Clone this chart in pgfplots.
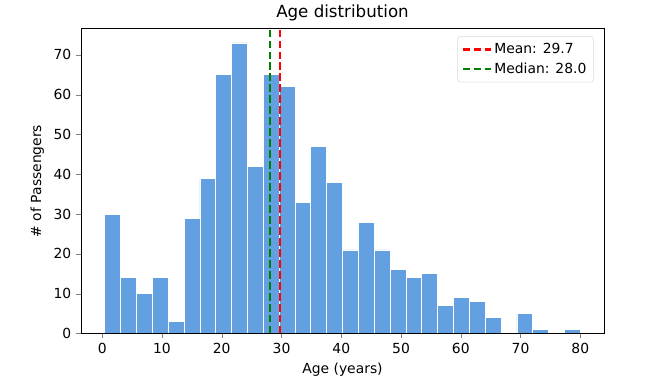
\documentclass[border=0pt]{standalone}
\usepackage{fontspec}
\setmainfont{DejaVu Sans}
\usepackage{pgfplots}
\pgfplotsset{compat=1.18}
\definecolor{barblue}{RGB}{98,160,226}
\definecolor{mplgreen}{RGB}{0,128,0}
\begin{document}
\begin{tikzpicture}
\begin{axis}[
  scale only axis,
  width=376.6pt, height=219.6pt,
  xmin=-3.56, xmax=83.98, ymin=0, ymax=76.65,
  xtick={0,10,...,80}, ytick={0,10,...,70},
  tick align=outside, major tick length=3.5pt,
  xtick pos=bottom, ytick pos=left,
  axis on top,
  tick label style={font=\fontsize{10}{12}\selectfont},
  /pgf/number format/assume math mode=true,
  label style={font=\fontsize{10}{12}\selectfont},
  xlabel={Age (years)}, ylabel={\# of Passengers},
  title={Age distribution},
  title style={font=\fontsize{12}{14}\selectfont, yshift=-4pt},
  legend style={at={(0.98,0.975)}, anchor=north east, draw=black!15, rounded corners=2pt,
    font=\fontsize{10}{12}\selectfont, row sep=1pt, inner sep=3pt},
  legend cell align=left,
  legend image code/.code={\draw[#1] (0pt,0pt) -- (20pt,0pt);},
]
\addplot[ybar interval, fill=barblue, draw=white, line width=0.5pt, forget plot] coordinates {
(0.42,30) (3.0727,14) (5.7253,10) (8.378,14) (11.0307,3) (13.6833,29)
(16.336,39) (18.9887,65) (21.6413,73) (24.294,42) (26.9467,65) (29.5993,62)
(32.252,33) (34.9047,47) (37.5573,38) (40.21,21) (42.8627,28) (45.5153,21)
(48.168,16) (50.8207,14) (53.4733,15) (56.126,7) (58.7787,9) (61.4313,8)
(64.084,4) (66.7367,0) (69.3893,5) (72.042,1) (74.6947,0) (77.3473,1) (80.0,1)
};
\addplot[red, line width=1.5pt, dash pattern=on 5.5pt off 2.4pt] coordinates {(29.699,0) (29.699,76.65)};
\addlegendentry{Mean: 29.7}
\addplot[mplgreen, line width=1.5pt, dash pattern=on 5.5pt off 2.4pt] coordinates {(28.0,0) (28.0,76.65)};
\addlegendentry{Median: 28.0}
\end{axis}
\path ([shift={(-58.3pt,-38.9pt)}]current axis.south west) rectangle ([shift={(37.4pt,18pt)}]current axis.north east);
\end{tikzpicture}
\end{document}
